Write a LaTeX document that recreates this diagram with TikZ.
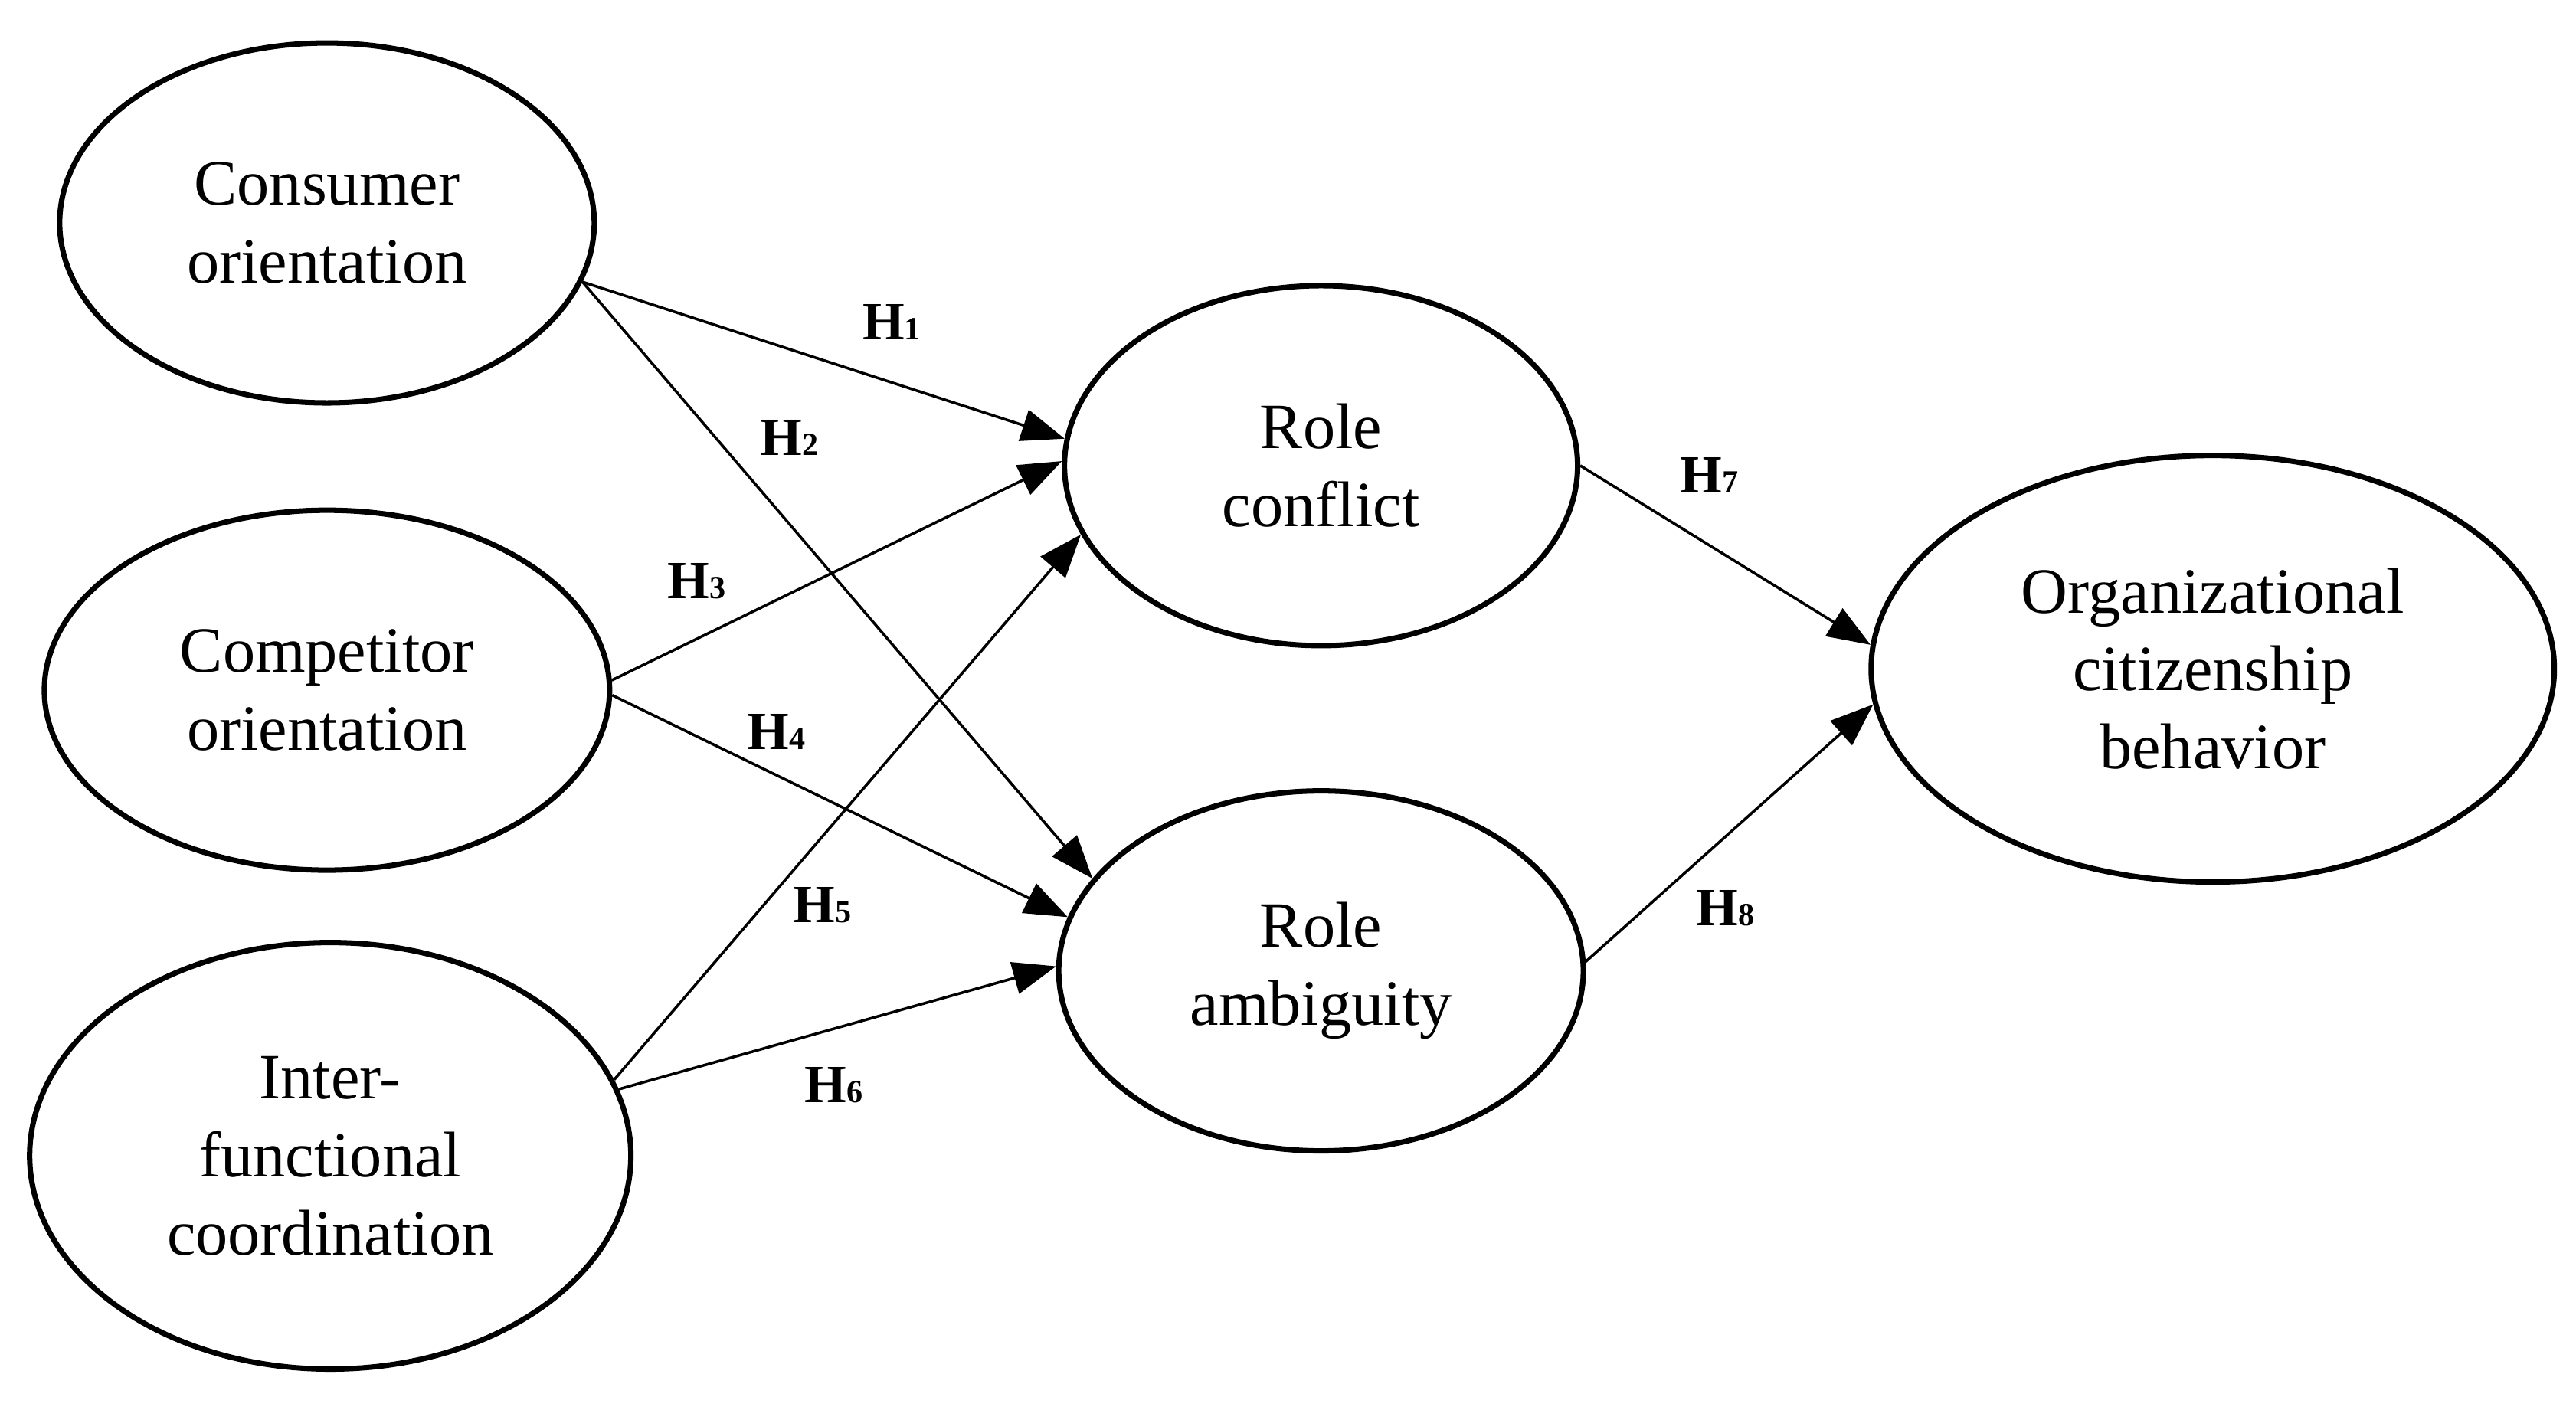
\documentclass[tikz,border=0pt]{standalone}
\usepackage{fontspec}
\setmainfont{Liberation Serif}
\usetikzlibrary{shapes.geometric,arrows.meta}
\begin{document}
\begin{tikzpicture}[x=0.02156cm,y=-0.02156cm,
  ell/.style={draw,ellipse,line width=2pt,inner sep=0pt,align=center,font=\fontsize{24}{29}\selectfont},
  arr/.style={line width=1pt,-{Triangle[length=16pt,width=12pt]}},
  lab/.style={font=\fontsize{20}{22}\selectfont\bfseries}]
\useasboundingbox (0,0) rectangle (1560,852);
\node[ell,minimum width=6.98cm,minimum height=4.70cm] (co) at (198,135) {Consumer\\orientation};
\node[ell,minimum width=7.38cm,minimum height=4.70cm] (cp) at (198,418) {Competitor\\orientation};
\node[ell,minimum width=7.85cm,minimum height=5.57cm] (if) at (200,700) {Inter-\\functional\\coordination};
\node[ell,minimum width=6.70cm,minimum height=4.70cm] (rc) at (800,282) {Role\\conflict};
\node[ell,minimum width=6.85cm,minimum height=4.70cm] (ra) at (800,588) {Role\\ambiguity};
\node[ell,minimum width=8.92cm,minimum height=5.57cm] (ocb) at (1340,405) {Organizational\\citizenship\\behavior};
\draw[arr] (co.-13) -- (rc.174);
\draw[arr] (co.-13) -- (ra.158);
\draw[arr] (cp.2) -- (rc.179);
\draw[arr] (cp.-1) -- (ra.168);
\draw[arr] (if.15.5) -- (rc.196);
\draw[arr] (if.13) -- (ra.179);
\draw[arr] (rc.0) -- (ocb.176);
\draw[arr] (ra.2) -- (ocb.186);
\node[lab] (h1) at (540,195) {H{\fontsize{12}{14}\selectfont 1}};
\node[lab] (h2) at (478,265) {H{\fontsize{12}{14}\selectfont 2}};
\node[lab] (h3) at (422,352) {H{\fontsize{12}{14}\selectfont 3}};
\node[lab] (h4) at (470,443) {H{\fontsize{12}{14}\selectfont 4}};
\node[lab] (h5) at (498,548) {H{\fontsize{12}{14}\selectfont 5}};
\node[lab] (h6) at (505,657) {H{\fontsize{12}{14}\selectfont 6}};
\node[lab] (h7) at (1035,288) {H{\fontsize{12}{14}\selectfont 7}};
\node[lab] (h8) at (1045,550) {H{\fontsize{12}{14}\selectfont 8}};
\end{tikzpicture}
\end{document}
